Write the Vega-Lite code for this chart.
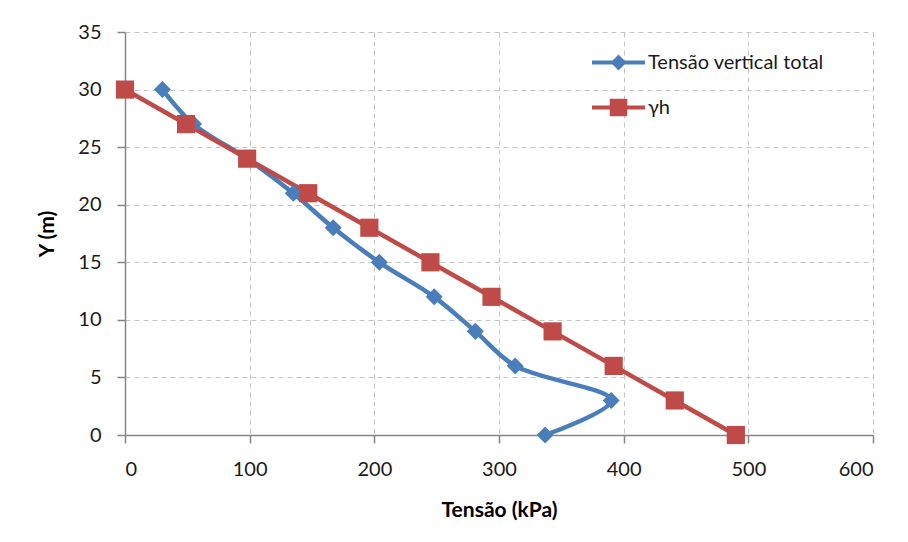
{
  "$schema": "https://vega.github.io/schema/vega-lite/v6.json",
  "width": 748,
  "height": 403,
  "autosize": {"type": "none"},
  "padding": {"left": 125, "top": 32, "right": 35, "bottom": 107},
  "background": "white",
  "config": {
    "view": {"stroke": null},
    "font": "Lato",
    "axis": {
      "grid": true,
      "gridDash": [5, 4],
      "gridColor": "#c4c4c4",
      "gridWidth": 1,
      "domainColor": "#868686",
      "domainWidth": 1.5,
      "tickColor": "#868686",
      "tickSize": 8,
      "tickWidth": 1.5,
      "labelFont": "Lato",
      "labelFontSize": 20,
      "labelColor": "#1a1a1a",
      "titleFont": "Lato",
      "titleFontSize": 21,
      "titleFontWeight": "bold",
      "titleColor": "#000000"
    }
  },
  "data": {
    "values": [
      {"series": "Tensão vertical total", "i": 0, "x": 30, "y": 30},
      {"series": "Tensão vertical total", "i": 1, "x": 55, "y": 27},
      {"series": "Tensão vertical total", "i": 2, "x": 98, "y": 24},
      {"series": "Tensão vertical total", "i": 3, "x": 135, "y": 21},
      {"series": "Tensão vertical total", "i": 4, "x": 167, "y": 18},
      {"series": "Tensão vertical total", "i": 5, "x": 204, "y": 15},
      {"series": "Tensão vertical total", "i": 6, "x": 248, "y": 12},
      {"series": "Tensão vertical total", "i": 7, "x": 281, "y": 9},
      {"series": "Tensão vertical total", "i": 8, "x": 313, "y": 6},
      {"series": "Tensão vertical total", "i": 9, "x": 390, "y": 3},
      {"series": "Tensão vertical total", "i": 10, "x": 337, "y": 0},
      {"series": "γh", "i": 0, "x": 0, "y": 30},
      {"series": "γh", "i": 1, "x": 49, "y": 27},
      {"series": "γh", "i": 2, "x": 98, "y": 24},
      {"series": "γh", "i": 3, "x": 147, "y": 21},
      {"series": "γh", "i": 4, "x": 196, "y": 18},
      {"series": "γh", "i": 5, "x": 245, "y": 15},
      {"series": "γh", "i": 6, "x": 294, "y": 12},
      {"series": "γh", "i": 7, "x": 343, "y": 9},
      {"series": "γh", "i": 8, "x": 392, "y": 6},
      {"series": "γh", "i": 9, "x": 441, "y": 3},
      {"series": "γh", "i": 10, "x": 490, "y": 0}
    ]
  },
  "encoding": {
    "x": {
      "field": "x", "type": "quantitative",
      "scale": {"domain": [0, 600], "nice": false, "zero": false},
      "axis": {"title": "Tensão (kPa)", "values": [0, 100, 200, 300, 400, 500, 600], "labelPadding": 16, "titlePadding": 20, "format": "d"}
    },
    "y": {
      "field": "y", "type": "quantitative",
      "scale": {"domain": [0, 35], "nice": false, "zero": false},
      "axis": {"title": "Y (m)", "values": [0, 5, 10, 15, 20, 25, 30, 35], "labelPadding": 16, "titlePadding": 20, "format": "d"}
    },
    "color": {
      "field": "series", "type": "nominal",
      "scale": {"domain": ["Tensão vertical total", "γh"], "range": ["#4A7EBB", "#BE4B48"]},
      "legend": {
        "orient": "none",
        "legendX": 467,
        "legendY": 4,
        "title": null,
        "padding": 0,
        "symbolSize": 2809,
        "labelFont": "Lato",
        "labelFontSize": 20,
        "labelLimit": 400,
        "labelColor": "#1a1a1a",
        "labelOffset": 3,
        "rowPadding": 8,
        "symbolStrokeWidth": 0,
        "symbolOpacity": 1,
        "encode": {
          "symbols": {
            "update": {
              "shape": {"signal": "datum.value === 'γh' ? 'M-1,-0.08H1V0.08H-1Z M-0.33,-0.33H0.33V0.33H-0.33Z' : 'M-1,-0.08H1V0.08H-1Z M0,-0.3L0.3,0L0,0.3L-0.3,0Z'"},
              "fill": {"scale": "color", "field": "value"},
              "strokeWidth": {"value": 0},
              "opacity": {"value": 1}
            }
          }
        }
      }
    }
  },
  "layer": [
    {
      "mark": {"type": "line", "interpolate": "catmull-rom", "strokeWidth": 4.5},
      "encoding": {"order": {"field": "i", "type": "quantitative"}}
    },
    {
      "transform": [{"filter": "datum.series === 'Tensão vertical total'"}],
      "mark": {"type": "point", "filled": true, "opacity": 1, "shape": "diamond", "size": 290}
    },
    {
      "transform": [{"filter": "datum.series === 'γh'"}],
      "mark": {"type": "point", "filled": true, "opacity": 1, "shape": "square", "size": 330}
    }
  ]
}
